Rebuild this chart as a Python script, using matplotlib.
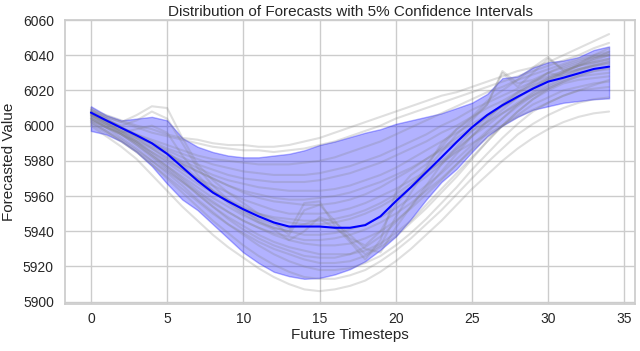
import matplotlib
matplotlib.use("Agg")
import matplotlib.pyplot as plt
import seaborn as sns
import numpy as np

timesteps = list(range(35))

mean_forecast = [6007.4, 6003, 5998.7, 5994.5, 5990, 5984, 5976.4, 5968.7, 5962, 5957,
                 5952.5, 5948.5, 5945, 5942.7, 5942.7, 5942.7, 5942, 5942, 5943.5, 5948.5,
                 5957, 5965, 5973.5, 5982, 5990.7, 5999, 6006, 6011.6, 6016.4, 6021,
                 6025, 6027.2, 6029.7, 6032.2, 6033.5]

upper_bound = [6011, 6006, 6003, 6004, 6005, 6003, 5993, 5988, 5985, 5983,
               5982, 5982, 5983, 5984, 5986, 5989, 5991, 5993.5, 5996, 5998,
               6001, 6003, 6005, 6007, 6010, 6013, 6018, 6027, 6028, 6033,
               6036, 6037, 6039, 6043, 6045]

lower_bound = [5997, 5995, 5991, 5985, 5977, 5967, 5958, 5952, 5944, 5936,
               5928, 5922, 5917, 5914.5, 5913, 5913.5, 5915.5, 5918.5, 5923, 5929.5,
               5937, 5947, 5958, 5968, 5975.5, 5985, 5994, 6000, 6005, 6009,
               6011, 6013, 6014, 6015, 6015.5]

forecast_u1 = [6009, 6006, 6003, 6000, 5998, 5995, 5993, 5992, 5990, 5989, 5989, 5988, 5988, 5989, 5991, 5993, 5996, 5999, 6002, 6005, 6008, 6011, 6014, 6017, 6019, 6022, 6025, 6028, 6031, 6033, 6036, 6040, 6044, 6048, 6052]
forecast_u2 = [6008, 6005, 6002, 5999, 5996, 5994, 5992, 5990, 5988, 5987, 5986, 5986, 5985, 5986, 5987, 5989, 5991, 5994, 5997, 6000, 6004, 6007, 6010, 6013, 6016, 6019, 6022, 6025, 6028, 6031, 6034, 6037, 6040, 6044, 6047]
forecast_u3 = [6006, 6003, 5999, 5995, 5992, 5989, 5986, 5983, 5981, 5980, 5979, 5978, 5978, 5978, 5979, 5980, 5982, 5985, 5988, 5991, 5995, 5999, 6003, 6007, 6011, 6015, 6019, 6022, 6026, 6029, 6032, 6035, 6038, 6040, 6042]
forecast_u4 = [6007, 6003, 5999, 5995, 5991, 5987, 5984, 5981, 5978, 5976, 5974, 5973, 5972, 5972, 5972, 5973, 5975, 5977, 5980, 5983, 5987, 5991, 5995, 6000, 6004, 6009, 6013, 6017, 6021, 6025, 6028, 6031, 6034, 6036, 6038]
forecast_m1 = [6005, 6001, 5997, 5992, 5988, 5984, 5980, 5976, 5972, 5969, 5967, 5965, 5964, 5963, 5963, 5963, 5964, 5966, 5969, 5972, 5976, 5981, 5986, 5991, 5996, 6001, 6006, 6011, 6016, 6021, 6026, 6030, 6035, 6040, 6044]
forecast_m2 = [6008, 6004, 5999, 5994, 5989, 5984, 5979, 5974, 5970, 5966, 5962, 5959, 5957, 5956, 5955, 5955, 5956, 5958, 5961, 5965, 5970, 5975, 5981, 5987, 5993, 5999, 6005, 6011, 6016, 6021, 6026, 6030, 6034, 6037, 6040]
forecast_m3 = [6006, 6001, 5996, 5991, 5985, 5979, 5973, 5967, 5962, 5957, 5953, 5950, 5948, 5947, 5946, 5946, 5947, 5949, 5952, 5956, 5961, 5967, 5973, 5980, 5987, 5994, 6000, 6007, 6013, 6018, 6023, 6027, 6031, 6034, 6036]
forecast_m4 = [6004, 6000, 5995, 5989, 5983, 5977, 5971, 5965, 5959, 5954, 5949, 5945, 5942, 5940, 5938, 5938, 5939, 5941, 5944, 5948, 5953, 5959, 5966, 5973, 5981, 5989, 5997, 6004, 6011, 6017, 6022, 6026, 6029, 6031, 6032]
forecast_m5 = [6007, 6002, 5997, 5991, 5984, 5977, 5970, 5963, 5957, 5951, 5946, 5942, 5938, 5935, 5933, 5932, 5932, 5933, 5936, 5940, 5946, 5953, 5961, 5969, 5978, 5987, 5996, 6004, 6012, 6019, 6025, 6029, 6032, 6034, 6035]
forecast_m6 = [6005, 6000, 5995, 5989, 5982, 5975, 5968, 5961, 5954, 5948, 5943, 5938, 5934, 5931, 5929, 5927, 5927, 5927, 5929, 5933, 5939, 5946, 5955, 5964, 5973, 5982, 5991, 6000, 6008, 6015, 6021, 6025, 6028, 6029, 6030]
forecast_m7 = [6003, 5999, 5995, 5990, 5985, 5980, 5975, 5970, 5966, 5962, 5958, 5955, 5952, 5950, 5950, 5950, 5951, 5953, 5956, 5960, 5964, 5969, 5974, 5979, 5985, 5990, 5995, 6000, 6005, 6009, 6013, 6017, 6020, 6023, 6026]
forecast_m8 = [6009, 6004, 5999, 5993, 5987, 5981, 5975, 5969, 5963, 5958, 5954, 5950, 5947, 5945, 5944, 5944, 5945, 5947, 5950, 5954, 5959, 5965, 5971, 5978, 5986, 5994, 6002, 6009, 6016, 6022, 6027, 6031, 6034, 6036, 6038]
forecast_m9 = [6003, 5999, 5995, 5991, 5987, 5982, 5978, 5974, 5970, 5966, 5963, 5961, 5959, 5958, 5958, 5959, 5960, 5962, 5965, 5968, 5972, 5976, 5981, 5986, 5991, 5997, 6002, 6007, 6012, 6017, 6021, 6025, 6028, 6031, 6033]
forecast_m10 = [6002, 5997, 5992, 5986, 5980, 5974, 5968, 5962, 5956, 5951, 5946, 5942, 5939, 5937, 5935, 5935, 5936, 5938, 5941, 5945, 5950, 5956, 5963, 5970, 5978, 5986, 5993, 6000, 6006, 6012, 6016, 6020, 6022, 6024, 6025]
forecast_m11 = [6006, 6002, 5998, 5994, 5990, 5986, 5982, 5978, 5975, 5972, 5970, 5969, 5968, 5968, 5968, 5969, 5971, 5973, 5976, 5979, 5983, 5987, 5991, 5996, 6000, 6005, 6010, 6014, 6019, 6023, 6027, 6030, 6032, 6034, 6036]
forecast_m12 = [6007, 6002, 5996, 5990, 5983, 5976, 5969, 5961, 5954, 5947, 5941, 5936, 5932, 5929, 5926, 5925, 5925, 5927, 5931, 5937, 5945, 5954, 5964, 5974, 5984, 5994, 6003, 6012, 6019, 6025, 6030, 6034, 6037, 6039, 6040]
forecast_l1 = [6000, 5994, 5988, 5981, 5972, 5963, 5954, 5946, 5938, 5931, 5925, 5919, 5914, 5910, 5907, 5906, 5907, 5909, 5912, 5917, 5923, 5930, 5938, 5946, 5955, 5964, 5972, 5980, 5987, 5993, 5998, 6002, 6005, 6007, 6008]
forecast_l2 = [6002, 5997, 5991, 5985, 5978, 5970, 5962, 5954, 5946, 5939, 5932, 5926, 5921, 5917, 5914, 5913, 5913, 5915, 5918, 5923, 5929, 5936, 5944, 5952, 5961, 5970, 5979, 5987, 5995, 6001, 6006, 6010, 6013, 6015, 6016]
forecast_l3 = [6004, 5999, 5993, 5987, 5980, 5973, 5966, 5958, 5951, 5944, 5938, 5932, 5927, 5923, 5920, 5918, 5918, 5919, 5922, 5926, 5932, 5939, 5947, 5956, 5965, 5975, 5984, 5993, 6001, 6008, 6013, 6017, 6020, 6021, 6022]
forecast_l4 = [6001, 5996, 5991, 5985, 5978, 5971, 5964, 5957, 5950, 5944, 5939, 5934, 5930, 5927, 5924, 5922, 5922, 5923, 5926, 5931, 5937, 5945, 5953, 5962, 5971, 5981, 5991, 6000, 6008, 6015, 6020, 6024, 6026, 6027, 6028]
forecast_j1 = [6010, 6005, 6002, 6006, 6011, 6010, 5993, 5978, 5969, 5962, 5956, 5950, 5945, 5938, 5952, 5955, 5946, 5935, 5927, 5932, 5948, 5962, 5975, 5985, 5995, 6003, 6012, 6030, 6022, 6030, 6038, 6032, 6035, 6038, 6040]
forecast_j2 = [6008, 6003, 6000, 6003, 6008, 6004, 5990, 5976, 5966, 5958, 5952, 5946, 5942, 5940, 5956, 5957, 5943, 5934, 5924, 5935, 5962, 5972, 5978, 5988, 5998, 6005, 6014, 6020, 6026, 6033, 6039, 6031, 6034, 6038, 6042]
forecast_j3 = [6006, 6001, 5997, 5993, 5990, 5985, 5978, 5970, 5963, 5957, 5951, 5947, 5944, 5942, 5944, 5947, 5942, 5936, 5932, 5940, 5955, 5965, 5976, 5990, 5998, 6004, 6012, 6031, 6024, 6026, 6030, 6033, 6036, 6039, 6041]
forecast_j4 = [6004, 5999, 5996, 5998, 6000, 5996, 5983, 5972, 5963, 5956, 5950, 5945, 5941, 5935, 5940, 5948, 5945, 5938, 5930, 5928, 5942, 5954, 5966, 5978, 5988, 5997, 6005, 6012, 6018, 6024, 6030, 6028, 6032, 6035, 6037]

forecasts = [forecast_u1, forecast_u2, forecast_u3, forecast_u4,
             forecast_m1, forecast_m2, forecast_m3, forecast_m4, forecast_m5, forecast_m6,
             forecast_m7, forecast_m8, forecast_m9, forecast_m10, forecast_m11, forecast_m12,
             forecast_l1, forecast_l2, forecast_l3, forecast_l4,
             forecast_j1, forecast_j2, forecast_j3, forecast_j4]

sns.set_theme(style="whitegrid")
plt.rcParams['font.family'] = ['Liberation Sans', 'DejaVu Sans']

fig = plt.figure(figsize=(6.4, 3.51), dpi=100)
ax = fig.add_axes([65/640, 1 - 304/351, 570/640, 284/351])

for f in forecasts:
    ax.plot(timesteps, f, color='gray', alpha=0.25, linewidth=1.5)

ax.fill_between(timesteps, lower_bound, upper_bound, color='blue', alpha=0.3)
ax.plot(timesteps, mean_forecast, color='blue', linewidth=1.5)

ax.set_title('Distribution of Forecasts with 5% Confidence Intervals', fontsize=11, pad=3)
ax.set_xlabel('Future Timesteps', fontsize=11, labelpad=1)
ax.set_ylabel('Forecasted Value', fontsize=11, labelpad=5)
ax.tick_params(axis='both', labelsize=10, length=0)
ax.tick_params(axis='x', pad=6)
ax.tick_params(axis='y', pad=8)
ax.set_xticks([0, 5, 10, 15, 20, 25, 30, 35])
ax.set_yticks(list(range(5900, 6061, 20)))

fig.savefig('out.png', dpi=100)
